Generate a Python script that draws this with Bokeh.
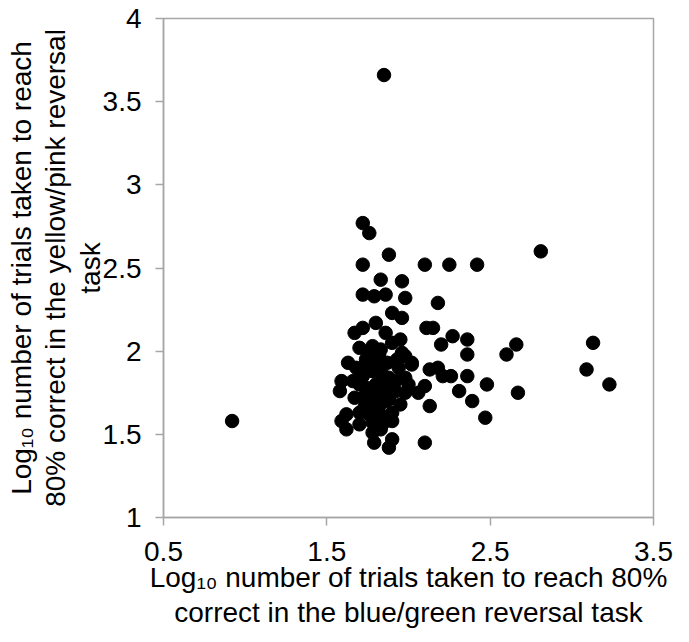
from bokeh.plotting import figure
from bokeh.models import Range1d, FixedTicker, CustomJSTickFormatter
from bokeh.embed import file_html
from bokeh.resources import INLINE

# Log10 trials, blue/green task (x) vs yellow/pink task (y)
blue_green = [0.92, 1.85, 1.72, 1.76, 1.88, 1.72, 1.83, 1.96, 1.72, 1.79, 1.86, 1.98,
              1.90, 1.96, 1.80, 1.67, 1.72, 1.86, 1.70, 1.78, 1.63, 1.59, 1.58, 1.66,
              1.62, 1.59, 1.62, 1.70, 1.78, 1.79, 1.88, 1.90, 2.10, 2.10, 2.25, 2.42,
              2.81, 2.18, 2.11, 2.15, 2.27, 2.20, 2.36, 2.36, 2.66, 2.60, 3.13, 3.09,
              3.23, 2.67, 2.48, 2.36, 2.31, 2.39, 2.47, 2.13, 2.13, 2.18, 2.21, 2.26,
              2.10, 2.06, 2.02, 1.98,
              1.95, 1.83, 1.96, 1.74, 1.82, 1.93, 2.02,
              1.94, 1.90, 1.88, 1.84, 1.90, 1.83,
              1.68, 1.72, 1.78, 1.84, 1.88, 1.74, 1.80, 1.86, 1.92, 1.98, 1.72, 1.78,
              1.84, 1.92, 1.76, 1.82, 1.76, 1.78, 1.70, 1.67, 1.70, 1.95,
              1.76, 1.82, 1.87, 1.98, 1.80, 1.74, 1.86, 1.80, 1.73, 1.90, 1.84, 2.00]
yellow_pink = [1.58, 3.66, 2.77, 2.71, 2.58, 2.52, 2.43, 2.42, 2.34, 2.33, 2.34, 2.32,
               2.23, 2.20, 2.17, 2.11, 2.14, 2.11, 2.02, 2.03, 1.93, 1.82, 1.76, 1.82,
               1.62, 1.58, 1.53, 1.63, 1.51, 1.45, 1.42, 1.47, 1.45, 2.52, 2.52, 2.52,
               2.60, 2.29, 2.14, 2.14, 2.09, 2.04, 2.07, 1.98, 2.04, 1.98, 2.05, 1.89,
               1.80, 1.75, 1.80, 1.85, 1.76, 1.70, 1.60, 1.67, 1.89, 1.90, 1.85, 1.85,
               1.79, 1.75, 1.92, 1.75,
               2.07, 2.01, 1.99, 1.95, 1.95, 1.95, 1.93,
               1.90, 2.05, 1.71, 1.61, 1.63, 1.53,
               1.90, 1.85, 1.88, 1.86, 1.84, 1.78, 1.80, 1.79, 1.82, 1.84, 1.72, 1.73,
               1.74, 1.76, 1.67, 1.67, 1.62, 1.57, 1.56, 1.72, 1.80, 1.68,
               2.00, 1.98, 1.93, 1.97, 1.92, 1.88, 1.70, 1.60, 1.66, 1.58, 1.56, 1.80]

x_ticks = [0.5, 1.5, 2.5, 3.5]
y_ticks = [1, 1.5, 2, 2.5, 3, 3.5, 4]

FONT = "Liberation Sans"
GREY = "#a6a6a6"

p = figure(width=673, height=636, output_backend="svg", toolbar_location=None,
           x_range=Range1d(0.5, 3.5), y_range=Range1d(1, 4),
           min_border_left=163, min_border_right=20, min_border_top=18, min_border_bottom=119)

p.scatter(blue_green, yellow_pink, size=13.5, color="black", marker="circle")

p.xgrid.visible = False
p.ygrid.visible = False
p.outline_line_color = GREY
p.outline_line_width = 1.5
p.background_fill_color = "white"
p.border_fill_color = "white"

fmt = CustomJSTickFormatter(code="return String(tick);")
for ax, ticks in ((p.xaxis[0], x_ticks), (p.yaxis[0], y_ticks)):
    ax.ticker = FixedTicker(ticks=ticks)
    ax.formatter = fmt
    ax.axis_line_color = GREY
    ax.axis_line_width = 1.5
    ax.major_tick_line_color = GREY
    ax.major_tick_line_width = 1.5
    ax.major_tick_out = 8
    ax.major_tick_in = 0
    ax.minor_tick_line_color = None
    ax.major_label_text_font = FONT
    ax.major_label_text_font_size = "28px"
    ax.major_label_text_color = "black"
    ax.axis_label_text_font = FONT
    ax.axis_label_text_font_size = "28px"
    ax.axis_label_text_font_style = "normal"
    ax.axis_label_text_color = "black"

p.xaxis.axis_label_text_line_height = 1.15
p.yaxis.axis_label_text_line_height = 1.1
p.xaxis.major_label_standoff = 16
p.yaxis.major_label_standoff = 14
p.xaxis.axis_label = "Log\u2081\u2080 number of trials taken to reach 80%\ncorrect in the blue/green reversal task"
p.yaxis.axis_label = "Log\u2081\u2080 number of trials taken to reach\n80% correct in the yellow/pink reversal\ntask"
p.xaxis.axis_label_standoff = -2
p.yaxis.axis_label_standoff = -6

open("out.html", "w").write(file_html(p, INLINE))
